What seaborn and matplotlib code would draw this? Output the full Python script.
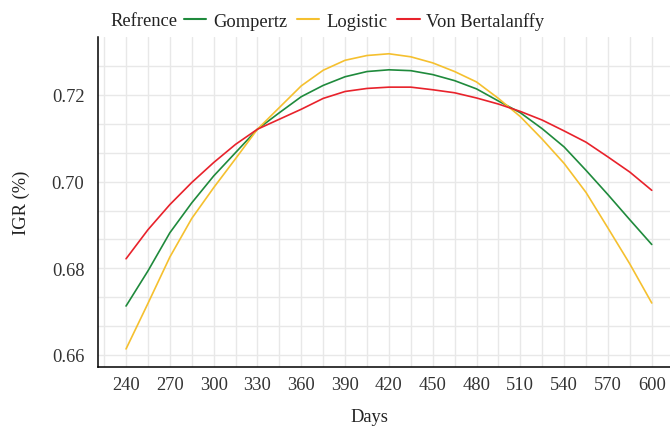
import numpy as np
import pandas as pd
import matplotlib
matplotlib.use("Agg")
import matplotlib.pyplot as plt
from matplotlib.ticker import MultipleLocator, FixedLocator
import seaborn as sns

days = [240, 255, 270, 285, 300, 315, 330, 345, 360, 375, 390, 405, 420,
        435, 450, 465, 480, 495, 510, 525, 540, 555, 570, 585, 600]
gompertz = [0.6713, 0.6794, 0.6882, 0.6951, 0.7013, 0.7067, 0.7121, 0.7159,
            0.7196, 0.7222, 0.7242, 0.7254, 0.7258, 0.7256, 0.7247, 0.7233,
            0.7214, 0.7186, 0.7159, 0.7122, 0.7080, 0.7026, 0.6970, 0.6912, 0.6855]
logistic = [0.6614, 0.6719, 0.6826, 0.6915, 0.6986, 0.7053, 0.7121, 0.7171,
            0.7221, 0.7257, 0.7280, 0.7291, 0.7295, 0.7288, 0.7274, 0.7254,
            0.7230, 0.7192, 0.7150, 0.7098, 0.7042, 0.6975, 0.6893, 0.6810, 0.6720]
von_bertalanffy = [0.6822, 0.6889, 0.6947, 0.6998, 0.7044, 0.7086, 0.7121, 0.7144,
                   0.7167, 0.7192, 0.7208, 0.7215, 0.7218, 0.7218, 0.7212, 0.7205,
                   0.7193, 0.7179, 0.7162, 0.7142, 0.7117, 0.7091, 0.7057, 0.7022, 0.6980]
models = ["Gompertz", "Logistic", "Von Bertalanffy"]
colors = ["#1f8a3c", "#f5c02f", "#e8222b"]
x_ticks = [240, 270, 300, 330, 360, 390, 420, 450, 480, 510, 540, 570, 600]
y_ticks = [0.66, 0.68, 0.70, 0.72]

df = pd.DataFrame({
    "Days": days * 3,
    "IGR": gompertz + logistic + von_bertalanffy,
    "Model": [m for m in models for _ in days],
})

sns.set_theme(style="white")
plt.rcParams["font.family"] = ["Liberation Serif", "DejaVu Serif"]
FS = 13.3
plt.rcParams["font.size"] = FS

fig = plt.figure(figsize=(6.7, 4.27), dpi=100)
W, H = 670, 427
left, right, top, bottom = 98.3, 670, 38.3, 367.7
ax = fig.add_axes([left / W, 1 - bottom / H, (right - left) / W, (bottom - top) / H])

sns.lineplot(data=df, x="Days", y="IGR", hue="Model", hue_order=models,
             palette=colors, linewidth=1.2, ax=ax, legend=False)

ax.set_xlim(221.0, 612.5)
ax.set_ylim(0.6573, 0.7333)
ax.xaxis.set_major_locator(FixedLocator(x_ticks))
ax.yaxis.set_major_locator(FixedLocator(y_ticks))
ax.set_xticklabels([str(t) for t in x_ticks])
ax.set_yticklabels([f"{t:.2f}" for t in y_ticks])
ax.xaxis.set_minor_locator(MultipleLocator(15))
ax.yaxis.set_minor_locator(FixedLocator([0.66 + k * 0.02 / 3 for k in range(-1, 13)]))
ax.grid(which="both", color="#e8e8e8", linewidth=1.0)
ax.set_axisbelow(True)

for s in ["top", "right"]:
    ax.spines[s].set_visible(False)
for s in ["left", "bottom"]:
    ax.spines[s].set_color("black")
    ax.spines[s].set_linewidth(1.1)

ax.tick_params(which="major", direction="out", length=4, width=1.0,
               color="black", labelsize=FS, labelcolor="#333333", pad=3)
ax.tick_params(axis="y", which="major", pad=6)
ax.tick_params(which="minor", length=0)

ax.set_xlabel("Days", fontsize=FS, color="#222222", va="center")
ax.xaxis.set_label_coords(0.475, -0.152)
ax.set_ylabel("IGR (%)", fontsize=FS, color="#222222", va="center")
ax.yaxis.set_label_coords(-0.134, 0.5)

# legend
fig.text(110 / W, 1 - 22 / H, "Refrence", fontsize=FS, color="#222222",
         ha="left", va="center")
handles = [plt.Line2D([], [], color=c, linewidth=1.5) for c in colors]
fig.legend(handles, models, loc="center left", bbox_to_anchor=(184 / W, 1 - 22 / H),
           ncol=3, frameon=False, fontsize=FS, handlelength=1.2,
           handletextpad=0.37, columnspacing=0.55, borderpad=0, borderaxespad=0,
           labelcolor="#222222")

fig.savefig("out.png", dpi=100)
